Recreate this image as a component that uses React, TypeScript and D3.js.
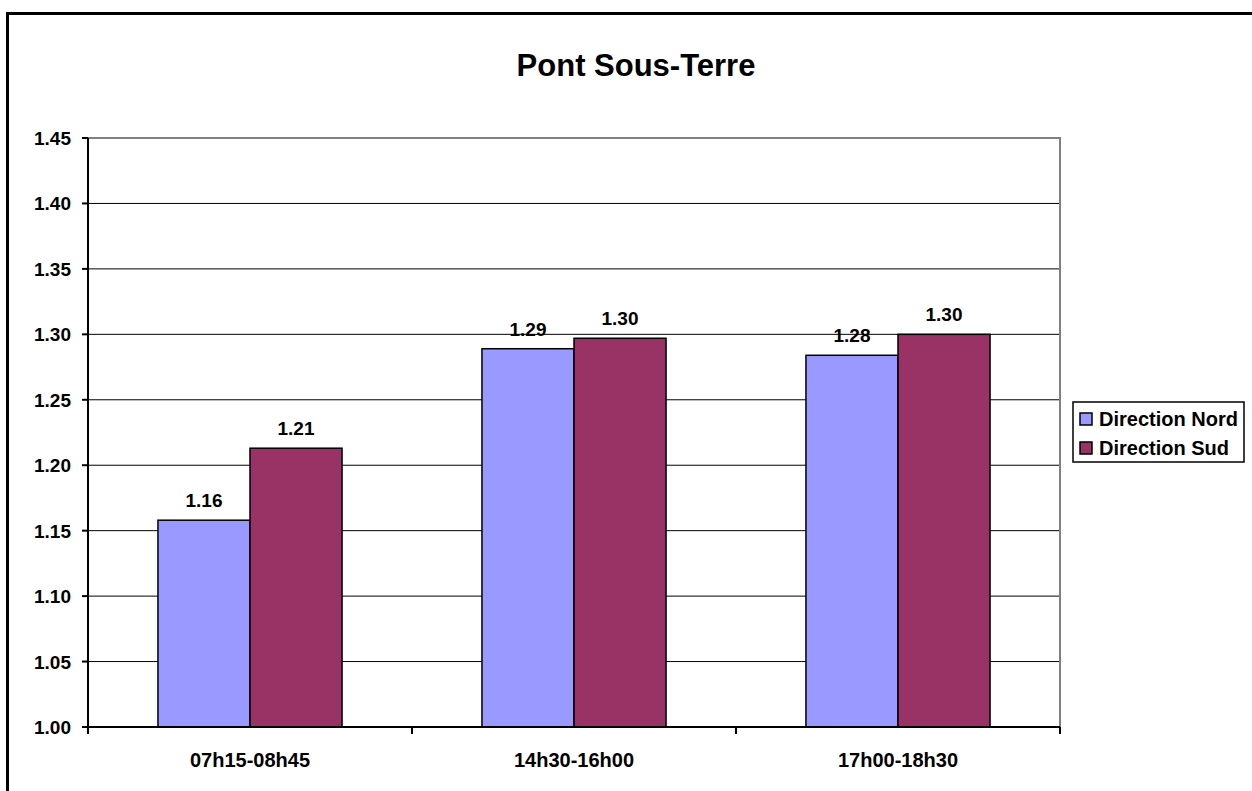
import React from "react";
import { scaleBand, scaleLinear, range } from "d3";

// data
const categories = ["07h15-08h45", "14h30-16h00", "17h00-18h30"];
const seriesNames = ["Direction Nord", "Direction Sud"];
const nordValues = [1.158, 1.289, 1.284];
const sudValues = [1.213, 1.297, 1.3];
const seriesColors = ["#9999FF", "#993366"];
const yTicks = range(0, 10).map(i => 1 + i * 0.05);

const W = 1252;
const H = 791;
const plot = { left: 88, top: 138, right: 1060, bottom: 727 };
const font = "'Liberation Sans', Arial, sans-serif";

export default function App() {
  const x0 = scaleBand<string>()
    .domain(categories)
    .range([plot.left, plot.right]);

  const x1 = scaleBand<string>()
    .domain(seriesNames)
    .range([0, x0.bandwidth()])
    .paddingOuter(0.76)
    .paddingInner(0);

  const y = scaleLinear()
    .domain([1, 1.45])
    .range([plot.bottom, plot.top]);

  const series = [nordValues, sudValues];

  return (
    <svg width={W} height={H} style={{ position: "absolute", left: 0, top: 0 }}>
      <rect x={0} y={0} width={W} height={H} fill="white" />
      {/* outer chart border */}
      <rect x={7.5} y={13.5} width={W + 20} height={H + 20} fill="none" stroke="black" strokeWidth={3} />

      {/* title */}
      <text x={636} y={76} textAnchor="middle" fontFamily={font} fontWeight="bold" fontSize={31}>
        Pont Sous-Terre
      </text>

      {/* gridlines */}
      {yTicks.map((t, i) => (
        <line key={i} x1={plot.left} x2={plot.right} y1={y(t)} y2={y(t)} stroke="black" strokeWidth={1} />
      ))}

      {/* plot area border */}
      <rect
        x={plot.left}
        y={plot.top}
        width={plot.right - plot.left}
        height={plot.bottom - plot.top}
        fill="none"
        stroke="#808080"
        strokeWidth={2}
      />

      {/* bars */}
      {categories.map((c, ci) => (
        <g key={c}>
          {seriesNames.map((s, si) => {
            const v = series[si][ci];
            const bx = x0(c)! + x1(s)!;
            return (
              <g key={s}>
                <rect
                  x={bx}
                  y={y(v)}
                  width={x1.bandwidth()}
                  height={plot.bottom - y(v)}
                  fill={seriesColors[si]}
                  stroke="black"
                  strokeWidth={1.5}
                />
                <text
                  x={bx + x1.bandwidth() / 2}
                  y={y(v) - 13}
                  textAnchor="middle"
                  fontFamily={font}
                  fontWeight="bold"
                  fontSize={19}
                >
                  {v.toFixed(2)}
                </text>
              </g>
            );
          })}
        </g>
      ))}

      {/* y axis */}
      <line x1={plot.left} x2={plot.left} y1={plot.top} y2={plot.bottom} stroke="black" strokeWidth={2} />
      {yTicks.map((t, i) => (
        <g key={i}>
          <line x1={plot.left - 6} x2={plot.left} y1={y(t)} y2={y(t)} stroke="black" strokeWidth={2} />
          <text
            x={plot.left - 17}
            y={y(t) + 7}
            textAnchor="end"
            fontFamily={font}
            fontWeight="bold"
            fontSize={19}
          >
            {t.toFixed(2)}
          </text>
        </g>
      ))}

      {/* x axis */}
      <line x1={plot.left} x2={plot.right} y1={plot.bottom} y2={plot.bottom} stroke="black" strokeWidth={2} />
      {[...categories.map(c => x0(c)!), plot.right].map((tx, i) => (
        <line key={i} x1={tx} x2={tx} y1={plot.bottom} y2={plot.bottom + 7} stroke="black" strokeWidth={2} />
      ))}
      {categories.map(c => (
        <text
          key={c}
          x={x0(c)! + x0.bandwidth() / 2}
          y={767}
          textAnchor="middle"
          fontFamily={font}
          fontWeight="bold"
          fontSize={20}
        >
          {c}
        </text>
      ))}

      {/* legend */}
      <rect x={1073} y={402} width={171} height={60} fill="white" stroke="black" strokeWidth={1.5} />
      {seriesNames.map((s, i) => (
        <g key={s} transform={`translate(1080, ${413 + i * 29})`}>
          <rect x={0} y={0} width={12} height={12} fill={seriesColors[i]} stroke="black" strokeWidth={1.5} />
          <text x={19} y={13} fontFamily={font} fontWeight="bold" fontSize={20}>
            {s}
          </text>
        </g>
      ))}
    </svg>
  );
}
